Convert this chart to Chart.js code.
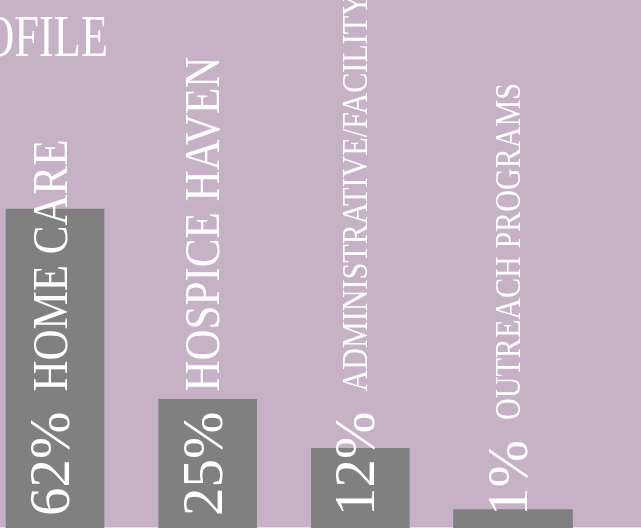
<!DOCTYPE html>
<html>
<head>
<meta charset="utf-8">
<script src="https://cdn.jsdelivr.net/npm/chart.js@4/dist/chart.umd.min.js"></script>
<style>
html, body { margin: 0; padding: 0; background: #c7b1c7; overflow: hidden; }
canvas { display: block; }
</style>
</head>
<body>
<canvas id="myChart" width="641" height="528"></canvas>
<script>
var programs = ["HOME CARE", "HOSPICE HAVEN", "ADMINISTRATIVE/FACILITY", "OUTREACH PROGRAMS"];
var shareLabels = ["62%", "25%", "12%", "1%"];
// bar heights as drawn in the picture (small bars are drawn taller than their share)
var barValues = [62, 25, 15.5, 3.6];

// last bar is drawn wider, so it gets its own dataset
var mainBars = barValues.map(function (v, i) { return i < 3 ? v : null; });
var wideBars = barValues.map(function (v, i) { return i == 3 ? v : null; });

var serif = '"Liberation Serif", "DejaVu Serif", serif';

var labelPlugin = {
  id: 'barLabels',
  beforeDraw: function (chart) {
    var c = chart.ctx;
    c.save();
    c.fillStyle = '#c7b1c7';
    c.fillRect(0, 0, chart.width, chart.height);
    c.fillStyle = '#e6dde6';
    c.fillRect(0, chart.height - 1, chart.width, 1);
    c.restore();
  },
  afterDatasetsDraw: function (chart) {
    var c = chart.ctx;
    var nameSize = [50, 50, 35, 35];
    var pctSize = 57;
    c.save();
    c.fillStyle = '#ffffff';

    // title, runs off the left edge
    c.save();
    c.translate(108, 56);
    c.scale(0.74, 1);
    c.font = '60px ' + serif;
    c.textAlign = 'right';
    c.fillText('PROFILE', 0, 0);
    c.restore();

    programs.forEach(function (name, i) {
      var bar = chart.getDatasetMeta(i < 3 ? 0 : 1).data[i];
      c.save();
      c.translate(bar.x + 14, bar.base - 12);
      c.rotate(-Math.PI / 2);
      c.textAlign = 'left';
      c.textBaseline = 'alphabetic';
      c.font = pctSize + 'px ' + serif;
      c.fillText(shareLabels[i], 0, 0);
      var w = c.measureText(shareLabels[i]).width;
      c.translate(w + 20, -(pctSize - nameSize[i]) * 0.33);
      c.scale(0.86, 1);
      c.font = nameSize[i] + 'px ' + serif;
      c.fillText(name, 0, 0);
      c.restore();
    });
    c.restore();
  }
};

var ctx = document.getElementById("myChart");

var myBarChart = new Chart(ctx, {
  type: 'bar',
  data: {
    labels: programs,
    datasets: [
      {
        data: mainBars,
        backgroundColor: "#808080",
        borderWidth: 0,
        barThickness: 98,
        clip: false
      },
      {
        data: wideBars,
        backgroundColor: "#808080",
        borderWidth: 0,
        barThickness: 119,
        clip: false
      }
    ]
  },
  options: {
    responsive: false,
    animation: false,
    events: [],
    layout: { padding: { left: 55, right: 128, top: 13.5, bottom: 0 } },
    datasets: { bar: { grouped: false, skipNull: true } },
    plugins: {
      legend: { display: false },
      tooltip: { enabled: false },
      title: { display: false }
    },
    scales: {
      x: { display: false, offset: false, grid: { display: false } },
      y: { display: false, min: 0, max: 100, grid: { display: false } }
    }
  },
  plugins: [labelPlugin]
});
</script>
</body>
</html>
